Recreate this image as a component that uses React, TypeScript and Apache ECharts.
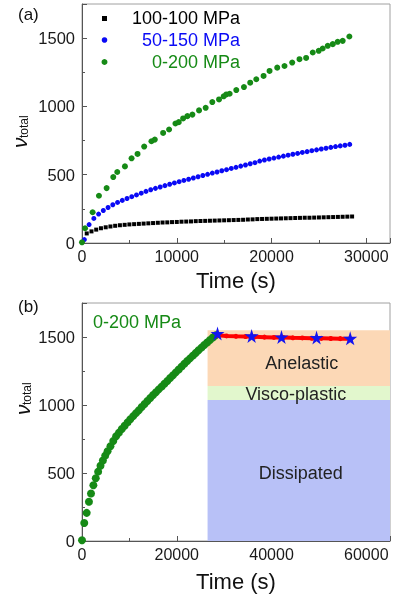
import React, { useEffect, useRef } from "react";
import * as echarts from "echarts";

// ---------- Data ----------
const blackTime = [500,1000,1500,2000,2500,3000,3500,4000,4500,5000,5500,6000,6500,7000,7500,8000,8500,9000,9500,10000,10500,11000,11500,12000,12500,13000,13500,14000,14500,15000,15500,16000,16500,17000,17500,18000,18500,19000,19500,20000,20500,21000,21500,22000,22500,23000,23500,24000,24500,25000,25500,26000,26500,27000,27500,28000,28500];
const blackValue = [70,85,98,108,115,121,126,130,133,136,138,140,142,144,146,148,150,151,153,154,156,157,158,160,161,162,163,164,165,166,167,168,169,170,172,173,175,176,177,178,179,180,181,182,183,184,185,185,186,187,188,189,190,191,192,193,194];

const blueTime = [250,750,1250,1750,2250,2750,3250,3750,4250,4750,5250,5750,6250,6750,7250,7750,8250,8750,9250,9750,10250,10750,11250,11750,12250,12750,13250,13750,14250,14750,15250,15750,16250,16750,17250,17750,18250,18750,19250,19750,20250,20750,21250,21750,22250,22750,23250,23750,24250,24750,25250,25750,26250,26750,27250,27750,28250];
const blueValue = [25,135,180,212,238,260,280,297,312,326,339,352,365,378,390,400,410,420,430,440,449,458,467,476,485,494,503,512,520,529,537,546,554,563,571,580,588,600,608,615,622,629,636,643,650,656,663,669,676,682,688,694,700,706,711,716,722];

const greenTime = [0,320,1120,1790,2600,3300,3720,4530,5230,5860,6560,7330,7680,8560,9190,9860,10210,10670,11120,11650,12350,13050,13750,14460,14950,15230,15580,16280,17090,17750,18390,19160,19790,20600,21370,22180,22950,23650,24350,24980,25400,25930,26460,26980,27510,28210];
const greenValue = [5,108,225,346,402,483,520,561,620,652,706,745,757,806,831,875,885,912,929,940,971,990,1032,1051,1074,1088,1093,1120,1142,1174,1199,1223,1260,1284,1296,1321,1346,1355,1395,1407,1424,1444,1456,1473,1480,1512];

// panel (b): the same 0-200 MPa loading, sampled densely
const loadTime = [0,480,990,1470,1900,2400,2900,3400,3900,4400,4900,5400,6000,6600,7200,7800,8400,9000,9600,10200,10800,11400,12000,12600,13200,13800,14400,15000,15600,16200,16800,17400,18000,18600,19200,19800,20400,21000,21600,22200,22800,23400,24000,24600,25200,25800,26400,27000,27600,28200];
const loadValue = [5,132,207,288,349,410,462,510,553,592,628,660,697,735,770,797,823,848,872,895,918,940,962,985,1007,1030,1052,1073,1094,1115,1135,1156,1177,1198,1219,1240,1261,1282,1303,1323,1343,1363,1383,1403,1422,1441,1460,1478,1496,1512];

const redTime = [28600,30500,32500,34500,36500,38500,40500,42500,44500,46500,48500,50500,52500,54500,56600];
const redValue = [1512,1508,1505,1503,1501,1499,1497,1496,1494,1493,1491,1490,1489,1488,1487];

const starTime = [28600,35800,42100,49500,56600];
const starValue = [1525,1508,1500,1496,1490];

const seriesNames = ["100-100 MPa", "50-150 MPa", "0-200 MPa"];
const seriesColors = ["#000000", "#0a0af5", "#168a16"];

const regionNames = ["Anelastic", "Visco-plastic", "Dissipated"];
const regionLow = [1140, 1037, 0];
const regionHigh = [1550, 1140, 1037];
const regionColors = ["#fcd8b6", "#e2f7cd", "#b8c1f7"];
const regionLabelOffset = [[3, 5], [-3, 1], [2, 3]];
const regionStart = 26500;
const regionEnd = 65000;

const topXTicks = { min: 0, max: 32500, interval: 10000 };
const botXTicks = { min: 0, max: 65000, interval: 20000 };
const yTicks = { min: 0, max: 1750, interval: 500 };

const zip = (a: number[], b: number[]) => a.map((t, i) => [t, b[i]]);

const FONT = "'Liberation Sans', Arial, sans-serif";
const STAR = "path://M50,0 L61,35 L98,35 L68,57 L79,91 L50,70 L21,91 L32,57 L2,35 L39,35 Z";
const plain = (v: number) => String(v);

function xAxisCfg(gridIndex: number, t: { min: number; max: number; interval: number }, nameGap: number) {
  return {
    type: "value",
    gridIndex,
    min: t.min,
    max: t.max,
    interval: t.interval,
    name: "Time (s)",
    nameLocation: "middle",
    nameGap,
    nameTextStyle: { fontSize: 22, color: "#111", fontFamily: FONT },
    axisLine: { show: true, lineStyle: { color: "#555", width: 1 } },
    axisTick: { show: true, inside: true, length: 5, lineStyle: { color: "#555" } },
    minorTick: { show: true, splitNumber: 2, length: 3, lineStyle: { color: "#555" } },
    axisLabel: { fontSize: 16, color: "#1a1a1a", fontFamily: FONT, margin: 5, showMaxLabel: false, formatter: plain },
    splitLine: { show: false },
  };
}

function yAxisCfg(gridIndex: number) {
  return {
    type: "value",
    gridIndex,
    min: yTicks.min,
    max: yTicks.max,
    interval: yTicks.interval,
    axisLine: { show: true, lineStyle: { color: "#555", width: 1 } },
    axisTick: { show: true, inside: true, length: 5, lineStyle: { color: "#555" } },
    minorTick: { show: true, splitNumber: 2, length: 3, lineStyle: { color: "#555" } },
    axisLabel: { fontSize: 16.5, color: "#1a1a1a", fontFamily: FONT, margin: 7, showMaxLabel: false, formatter: plain },
    splitLine: { show: false },
  };
}

function yName(x: number, y: number) {
  return {
    type: "group",
    x,
    y,
    rotation: Math.PI / 2,
    children: [
      {
        type: "text",
        x: 0,
        y: 0,
        style: { text: "ν", fontSize: 21, fontStyle: "italic", fontFamily: FONT, fill: "#111", align: "left", verticalAlign: "middle" },
      },
      {
        type: "text",
        x: 10,
        y: 5,
        style: { text: "total", fontSize: 12, fontFamily: FONT, fill: "#111", align: "left", verticalAlign: "middle" },
      },
    ],
  };
}

export default function App() {
  const ref = useRef<HTMLDivElement>(null);
  useEffect(() => {
    document.body.style.margin = "0";
    const chart = echarts.init(ref.current!, null, { renderer: "svg" });
    const legendSymbols = [
      { type: "rect", shape: { x: 102, y: 16, width: 5, height: 5 }, style: { fill: seriesColors[0] } },
      { type: "circle", shape: { cx: 104.5, cy: 40, r: 2.8 }, style: { fill: seriesColors[1] } },
      { type: "circle", shape: { cx: 104.5, cy: 62, r: 3 }, style: { fill: seriesColors[2] } },
    ];
    const legendTexts = seriesNames.map((n, i) => ({
      type: "text",
      x: 240,
      y: 18 + i * 22,
      style: { text: n, fontSize: 18, fontFamily: FONT, fill: seriesColors[i], align: "right", verticalAlign: "middle" },
    }));
    const option: any = {
      animation: false,
      grid: [
        { left: 82, top: 4, width: 308, height: 239, show: true, borderColor: "#a0a0a0", borderWidth: 1, backgroundColor: "transparent" },
        { left: 82, top: 303, width: 308, height: 238, show: true, borderColor: "#a0a0a0", borderWidth: 1, backgroundColor: "transparent" },
      ],
      xAxis: [xAxisCfg(0, topXTicks, 26), xAxisCfg(1, botXTicks, 29)],
      yAxis: [yAxisCfg(0), yAxisCfg(1)],
      series: [
        {
          name: seriesNames[0], type: "scatter", xAxisIndex: 0, yAxisIndex: 0,
          symbol: "rect", symbolSize: 4, itemStyle: { color: seriesColors[0], opacity: 1 },
          data: zip(blackTime, blackValue), z: 3,
        },
        {
          name: seriesNames[1], type: "scatter", xAxisIndex: 0, yAxisIndex: 0,
          symbol: "circle", symbolSize: 5, itemStyle: { color: seriesColors[1], opacity: 1 },
          data: zip(blueTime, blueValue), z: 3,
        },
        {
          name: seriesNames[2], type: "scatter", xAxisIndex: 0, yAxisIndex: 0,
          symbol: "circle", symbolSize: 6, itemStyle: { color: seriesColors[2], opacity: 1 },
          data: zip(greenTime, greenValue), z: 4,
        },
        {
          name: "regions", type: "line", xAxisIndex: 1, yAxisIndex: 1, data: [], z: 1,
          markArea: {
            silent: true,
            data: regionNames.map((n, i) => [
              {
                name: n,
                xAxis: regionStart,
                yAxis: regionLow[i],
                itemStyle: { color: regionColors[i], opacity: 1 },
                label: { show: true, position: "inside", offset: regionLabelOffset[i], fontSize: 18, color: "#222", fontFamily: FONT },
              },
              { xAxis: regionEnd, yAxis: regionHigh[i] },
            ]),
          },
        },
        {
          name: seriesNames[2] + " (b)", type: "scatter", xAxisIndex: 1, yAxisIndex: 1,
          symbol: "circle", symbolSize: 8, itemStyle: { color: seriesColors[2], opacity: 1 },
          data: zip(loadTime, loadValue), z: 3,
        },
        {
          name: "recovery", type: "line", xAxisIndex: 1, yAxisIndex: 1,
          symbol: "circle", symbolSize: 5, showSymbol: true,
          lineStyle: { color: "#ff0000", width: 4 }, itemStyle: { color: "#ff0000", opacity: 1 },
          data: zip(redTime, redValue), z: 3,
        },
        {
          name: "stars", type: "scatter", xAxisIndex: 1, yAxisIndex: 1,
          symbol: STAR, symbolSize: 14, itemStyle: { color: "#1414f0", opacity: 1 },
          data: zip(starTime, starValue), z: 5,
        },
      ],
      graphic: [
        { type: "text", x: 18, y: 14, style: { text: "(a)", fontSize: 17, fontFamily: FONT, fill: "#111", verticalAlign: "middle" } },
        { type: "text", x: 18, y: 306, style: { text: "(b)", fontSize: 17, fontFamily: FONT, fill: "#111", verticalAlign: "middle" } },
        ...legendSymbols,
        ...legendTexts,
        { type: "text", x: 93, y: 322, style: { text: "0-200 MPa", fontSize: 18, fontFamily: FONT, fill: seriesColors[2], verticalAlign: "middle" } },
        yName(19, 148),
        yName(22, 415),
      ],
    };
    chart.setOption(option);
    return () => chart.dispose();
  }, []);
  return <div ref={ref} style={{ position: "fixed", left: 0, top: 0, width: 395, height: 602 }} />;
}
